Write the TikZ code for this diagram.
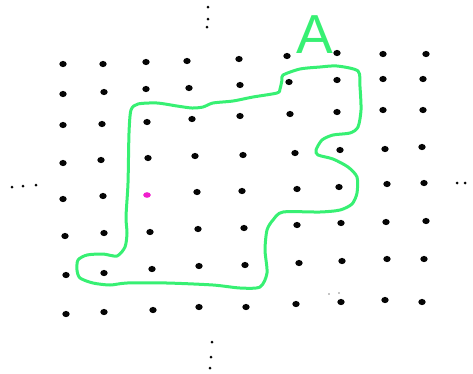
\documentclass[tikz,border=0pt]{standalone}
\usepackage{fontspec}
\setsansfont{Liberation Sans}
\usepackage{tikz}
\usetikzlibrary{positioning}
\definecolor{penblack}{RGB}{5,5,5}
\definecolor{pengreen}{RGB}{55,240,115}
\definecolor{penpink}{RGB}{240,30,205}

\begin{document}
\begin{tikzpicture}[x=1pt, y=-1pt,
    dot/.style={fill=penblack, draw=none},
    tick/.style={fill=penblack, draw=none},
    region/.style={draw=pengreen, line width=3pt, line join=round, line cap=round},
    lbl/.style={text=pengreen, font=\sffamily\fontsize{55}{55}\selectfont, inner sep=0pt}
]
    \useasboundingbox (0,0) rectangle (473,373);

    % Grid of points, one row per line
    \foreach \px/\py in {63/64, 103/64, 146/62, 187/61, 239/59, 287/56, 337/53, 383/54, 426/54,
        63/94, 104/92, 146/89, 189/88, 240/85, 289/82, 337/80, 383/79, 423/79,
        63/125, 102/124, 147/122, 192/119, 240/116, 290/114, 337/112, 383/110, 423/110,
        63/163, 101/160, 148/158, 195/156, 243/155, 295/153, 340/150, 385/149, 422/147,
        63/199, 103/196, 197/192, 242/191, 297/189, 339/187, 387/184, 424/183,
        65/236, 104/233, 150/232, 198/229, 244/228, 297/225, 341/223, 386/222, 426/221,
        66/275, 104/273, 152/269, 199/266, 245/265, 299/263, 342/261, 387/259, 424/259,
        66/314, 104/312, 153/310, 199/307, 246/307, 296/304, 341/302, 385/300, 422/302}
        \fill[dot] (\px,\py) ellipse [x radius=3.7, y radius=3.1];

    % Marked point
    \fill[penpink] (147,195) ellipse [x radius=3.8, y radius=2.8];

    % Axis hints
    \foreach \px/\py in {208/7, 208/19, 207/27, 12/187, 23/186, 36/185,
        457/183, 465/183, 212/342, 211/357, 210/368}
        \fill[tick] (\px,\py) ellipse [x radius=1.5, y radius=1.5];
    \foreach \px/\py in {329/294, 339/293}
        \fill[tick] (\px,\py) circle (0.7);

    % Region A
    \draw[region] plot[smooth cycle, tension=0.45] coordinates {
        (283,75) (300,69) (320,67) (337,66) (358,71) (360,87) (361,110) (358,127)
        (350,133) (333,135) (322,140) (316,150) (318,155) (333,159) (348,167)
        (357,177) (357,193) (352,204) (340,210) (320,212) (283,212) (273,220)
        (267,230) (265,250) (267,273) (260,287) (240,288) (213,285) (167,283)
        (127,283) (110,285) (93,283) (80,278) (77,270) (78,260) (87,255)
        (103,254) (117,256) (125,247) (127,233) (126,217) (128,183) (129,133)
        (131,110) (138,104) (157,103) (177,106) (192,108) (203,107) (213,103)
        (233,101) (253,97) (277,93) (280,89) (282,80)};

    \node[lbl, anchor=base] (nameA) at (315,53) {A};
\end{tikzpicture}
\end{document}
